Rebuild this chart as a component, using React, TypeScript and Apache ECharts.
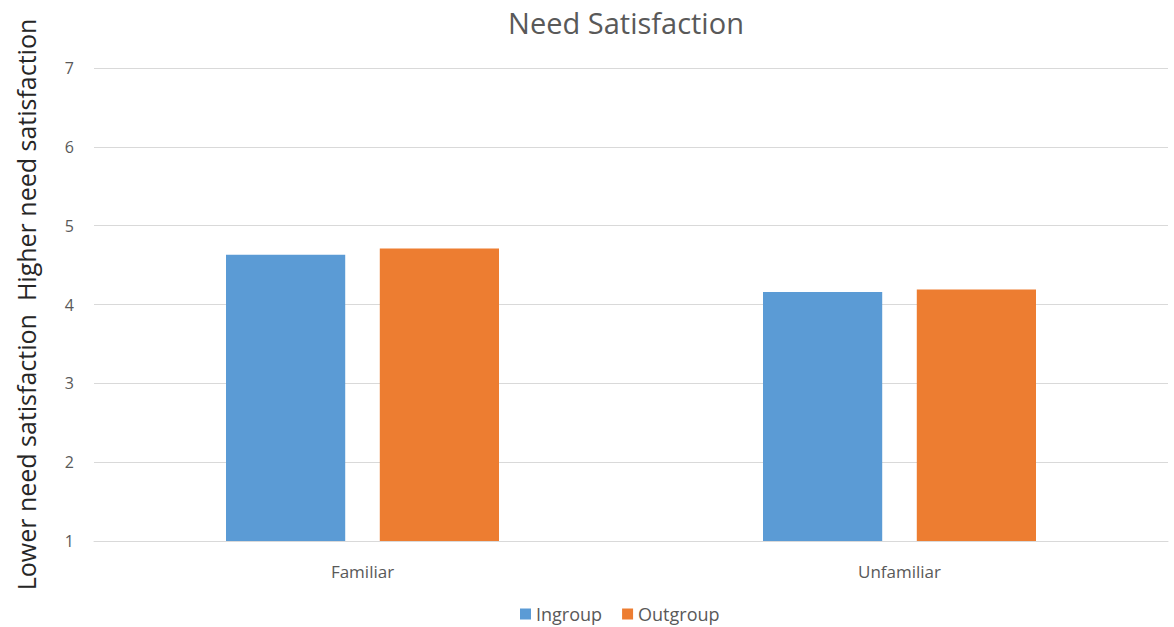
import React, { useEffect, useRef } from "react";
import * as echarts from "echarts";

const categories = ["Familiar", "Unfamiliar"];
const ingroup = [4.63, 4.16];
const outgroup = [4.71, 4.19];
const seriesNames = ["Ingroup", "Outgroup"];

export default function App() {
  const ref = useRef<HTMLDivElement>(null);
  useEffect(() => {
    const chart = echarts.init(ref.current!, null, { renderer: "svg" });
    const font = "'Open Sans', sans-serif";
    chart.setOption({
      animation: false,
      backgroundColor: "#ffffff",
      title: {
        text: "Need Satisfaction",
        left: 621,
        textAlign: "center",
        top: 3,
        textStyle: { fontFamily: font, fontSize: 29, fontWeight: "normal", color: "#595959" },
      },
      legend: {
        data: seriesNames,
        top: 600,
        left: 515,
        itemWidth: 11,
        itemHeight: 11,
        itemGap: 20,
        icon: "rect",
        textStyle: { fontFamily: font, fontSize: 18, color: "#595959" },
      },
      grid: { left: 94, right: 6, top: 68, bottom: 86 },
      xAxis: {
        type: "category",
        data: categories,
        axisLine: { lineStyle: { color: "#d9d9d9" } },
        axisTick: { show: false },
        axisLabel: { fontFamily: font, fontSize: 17, color: "#595959", margin: 22 },
      },
      yAxis: {
        type: "value",
        min: 1,
        max: 7,
        interval: 1,
        name: "Lower need satisfaction  Higher need satisfaction",
        nameLocation: "middle",
        nameGap: 56,
        nameTextStyle: { fontFamily: font, fontSize: 25, color: "#262626" },
        axisLine: { show: false },
        axisTick: { show: false },
        axisLabel: { fontFamily: font, fontSize: 16, color: "#595959", margin: 20 },
        splitLine: { lineStyle: { color: "#d9d9d9", width: 1 } },
      },
      series: [
        {
          name: seriesNames[0],
          type: "bar",
          data: ingroup,
          barWidth: "22.2%",
          barGap: "29%",
          itemStyle: { color: "#5b9bd5" },
        },
        {
          name: seriesNames[1],
          type: "bar",
          data: outgroup,
          barWidth: "22.2%",
          barGap: "29%",
          itemStyle: { color: "#ed7d31" },
        },
      ],
    });
    return () => chart.dispose();
  }, []);
  return (
    <div
      ref={ref}
      style={{ position: "absolute", left: 0, top: 0, width: 1174, height: 627 }}
    />
  );
}
